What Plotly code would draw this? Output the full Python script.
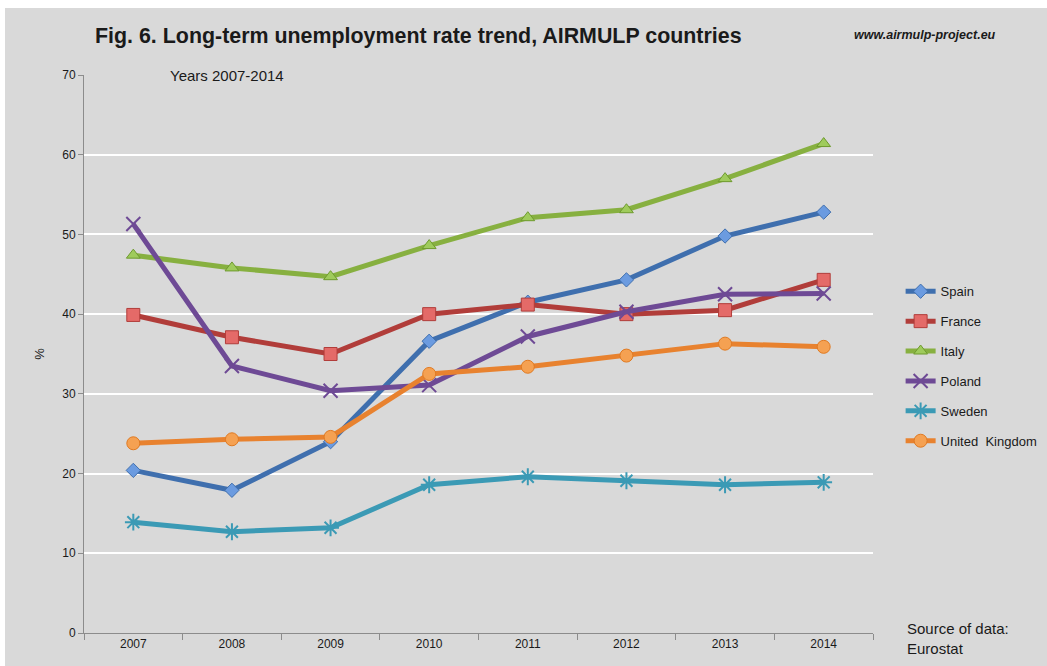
import plotly.graph_objects as go

years = ["2007", "2008", "2009", "2010", "2011", "2012", "2013", "2014"]

spain = [20.4, 17.9, 24.0, 36.6, 41.5, 44.3, 49.8, 52.8]
france = [39.9, 37.1, 35.0, 40.0, 41.2, 40.0, 40.5, 44.3]
italy = [47.4, 45.8, 44.7, 48.6, 52.1, 53.1, 57.0, 61.4]
poland = [51.3, 33.5, 30.4, 31.1, 37.2, 40.3, 42.5, 42.6]
sweden = [13.9, 12.7, 13.2, 18.6, 19.6, 19.1, 18.6, 18.9]
uk = [23.8, 24.3, 24.6, 32.5, 33.4, 34.8, 36.3, 35.9]

countries = ["Spain", "France", "Italy", "Poland", "Sweden", "United  Kingdom"]
values = [spain, france, italy, poland, sweden, uk]
line_colors = ["#3f6fae", "#b13d3a", "#87b040", "#6e4a95", "#3b9ab5", "#e8822f"]
marker_fill = ["#6b9be0", "#e46a68", "#9fcb5c", "#6e4a95", "#3b9ab5", "#f5a152"]
marker_edge = ["#3f6fae", "#b13d3a", "#6e9a2e", "#6e4a95", "#3b9ab5", "#e07a22"]
symbols = ["diamond", "square", "triangle-up", "x-thin", "asterisk", "circle"]
sizes = [11, 13, 12, 14, 14, 13]

BG = "#d9d9d9"
FONT = "Liberation Sans, Arial, sans-serif"

fig = go.Figure()
for i, (name, vals) in enumerate(zip(countries, values)):
    open_sym = symbols[i] in ("x-thin", "asterisk")
    fig.add_trace(go.Scatter(
        x=years, y=vals, name=name, mode="lines+markers",
        legendgroup=name,
        line=dict(color=line_colors[i], width=5),
        marker=dict(
            symbol=symbols[i], size=sizes[i],
            color=marker_fill[i],
            line=dict(color=marker_edge[i], width=2 if open_sym else 1),
        ),
    ))

# Grey chart panel
fig.add_shape(type="rect", xref="paper", yref="paper",
              x0=-0.1001, x1=1.3, y0=-0.07, y1=1.1201,
              fillcolor=BG, line=dict(width=0), layer="below")

fig.add_annotation(text="<b>Fig. 6. Long-term unemployment rate trend, AIRMULP countries</b>",
                   xref="paper", yref="paper", x=0.011, y=1.070, xanchor="left", yanchor="middle",
                   showarrow=False, font=dict(family=FONT, size=21.4, color="#1a1a1a"))
fig.add_annotation(text="<b><i>www.airmulp-project.eu</i></b>",
                   xref="paper", yref="paper", x=0.973, y=1.072, xanchor="left", yanchor="middle",
                   showarrow=False, font=dict(family=FONT, size=12.5, color="#1a1a1a"))
fig.add_annotation(text="Years 2007-2014",
                   xref="paper", yref="paper", x=0.1065, y=1.0, xanchor="left", yanchor="middle",
                   showarrow=False, font=dict(family=FONT, size=15, color="#1a1a1a"))
fig.add_annotation(text="Source of data:<br>Eurostat",
                   xref="paper", yref="paper", x=1.04, y=-0.01, xanchor="left", yanchor="middle",
                   align="left", showarrow=False, font=dict(family=FONT, size=15, color="#1a1a1a"))

fig.update_layout(
    width=1047, height=666,
    margin=dict(l=84, r=174, t=75, b=33, autoexpand=False),
    paper_bgcolor="white", plot_bgcolor=BG,
    font=dict(family=FONT, size=12, color="#333333"),
    legend=dict(x=1.035, y=0.478, xanchor="left", yanchor="middle",
                bgcolor="rgba(0,0,0,0)", font=dict(family=FONT, size=13, color="#1a1a1a"),
                tracegroupgap=10, itemwidth=30),
    showlegend=True,
)
fig.update_xaxes(type="category", range=[-0.5, 7.5], showgrid=False,
                 showline=True, linecolor="#8c8c8c", linewidth=1,
                 ticks="outside", tickson="boundaries", ticklen=6, tickcolor="#8c8c8c",
                 tickfont=dict(size=12, color="#1a1a1a"), zeroline=False)
fig.update_yaxes(range=[0, 70], dtick=10, showgrid=True, gridcolor="white", gridwidth=2,
                 showline=True, linecolor="#8c8c8c", linewidth=1,
                 ticks="outside", ticklen=5, tickcolor="#8c8c8c",
                 tickfont=dict(size=12, color="#1a1a1a"), zeroline=False,
                 title=dict(text="%", font=dict(size=13, color="#1a1a1a"), standoff=14))

fig.write_html("out.html")
